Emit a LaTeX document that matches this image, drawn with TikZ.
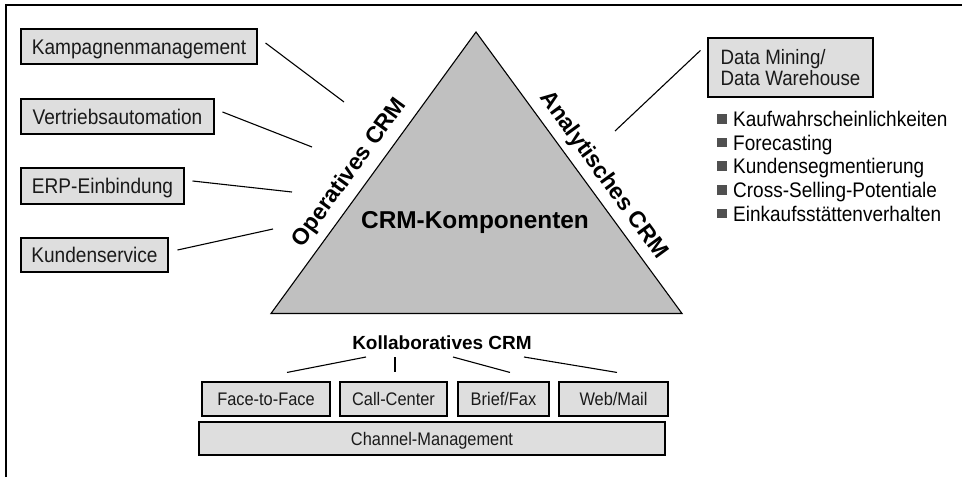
\documentclass[tikz,border=0pt]{standalone}
\usepackage{fontspec}
\setmainfont{Liberation Sans}
\newfontfamily\narrowfont[FakeStretch=0.9]{Liberation Sans}
\definecolor{boxgray}{HTML}{DEDEDE}
\definecolor{trigray}{HTML}{C0C0C0}
\definecolor{bulletgray}{HTML}{505050}
\definecolor{inkgray}{HTML}{1A1A1A}
\begin{document}
\begin{tikzpicture}[x=1pt,y=-1pt,
  box/.style={draw=black, line width=1.1pt, fill=boxgray, inner sep=0pt,
    text=inkgray, font=\narrowfont\fontsize{21.2}{24}\selectfont, text height=15.2pt, text depth=0pt},
  smallbox/.style={box, font=\narrowfont\fontsize{18.2}{22}\selectfont, text height=13pt},
  link/.style={draw=black, line width=1.1pt},
  sidelabel/.style={inner sep=0pt, font=\fontsize{23}{26}\bfseries\selectfont,
    text height=16.5pt, text depth=0pt},
  item/.style={anchor=west, inner sep=0pt, font=\narrowfont\fontsize{21.1}{24}\selectfont,
    text height=15.1pt, text depth=0pt},
  sq/.style={fill=bulletgray, minimum size=9.5pt, inner sep=0pt}
]
\useasboundingbox (0,0) rectangle (962,477);

% frame: only the top and left edges
\draw[line width=2pt] (5.5,477) -- (5.5,5) -- (962,5);

% the CRM triangle
\coordinate (apex) at (476,32);
\coordinate (bl) at (271,313.5);
\coordinate (br) at (682,313.5);
\draw[fill=trigray, line width=1.1pt, line join=miter] (apex) -- (bl) -- (br) -- cycle;

\node[sidelabel, rotate=53.9] (oper) at (348,171.5) {Operatives CRM};
\node[sidelabel, rotate=-53.9] (anal) at (605,174) {Analytisches CRM};
\node[inner sep=0pt, font=\fontsize{24.4}{28}\bfseries\selectfont,
  text height=17.5pt, text depth=0pt] (komp) at (475,220) {CRM-Komponenten};

% operative CRM components
\node[box, minimum width=236pt, minimum height=35pt] (kamp) at (139,46.5) {Kampagnenmanagement};
\node[box, minimum width=193pt, minimum height=35pt] (vert) at (117.5,116.5) {Vertriebsautomation};
\node[box, minimum width=163pt, minimum height=36pt] (erp)  at (102.5,186) {ERP-Einbindung};
\node[box, minimum width=147pt, minimum height=34pt] (kund) at (94.5,255) {Kundenservice};

\coordinate (o1) at (344,102);
\coordinate (o2) at (312,147);
\coordinate (o3) at (292,192);
\coordinate (o4) at (273,229);
\draw[link] ([shift={(8,-3.5)}]kamp.east) -- (o1);
\draw[link] ([shift={(8,-4.5)}]vert.east) -- (o2);
\draw[link] ([shift={(8,-5)}]erp.east) -- (o3);
\draw[link] ([shift={(9,-5)}]kund.east) -- (o4);

% analytical CRM
\node[draw=black, line width=1.1pt, fill=boxgray, text=inkgray, align=left,
  inner sep=0pt, minimum width=165pt, minimum height=59pt,
  font=\narrowfont\fontsize{20.8}{21.5}\selectfont] (dw) at (790.5,67.5) {Data Mining/\\Data Warehouse};
\coordinate (a1) at (615,131);
\draw[link] ([shift={(-7,13)}]dw.north west) -- (a1);

\node[item] (b1) at (733,118.8) {Kaufwahrscheinlichkeiten};
\node[item] (b2) at (733,142.5) {Forecasting};
\node[item] (b3) at (733,166.2) {Kundensegmentierung};
\node[item] (b4) at (733,189.9) {Cross-Selling-Potentiale};
\node[item] (b5) at (733,213.6) {Einkaufsstättenverhalten};
\foreach \b in {b1,b2,b3,b4,b5}
  \node[sq] (sq-\b) at ([xshift=-11pt]\b.west) {};

% collaborative CRM
\node[inner sep=0pt, font=\fontsize{19}{22}\bfseries\selectfont,
  text height=13.6pt, text depth=0pt] (koll) at (442,342.5) {Kollaboratives CRM};

\node[smallbox, minimum width=128pt, minimum height=34pt] (face)  at (266,399) {Face-to-Face};
\node[smallbox, minimum width=107pt, minimum height=34pt] (call)  at (393.5,399) {Call-Center};
\node[smallbox, minimum width=91pt,  minimum height=34pt] (brief) at (503.5,399) {Brief/Fax};
\node[smallbox, minimum width=109pt, minimum height=34pt] (web)   at (613.5,399) {Web/Mail};
\node[smallbox, minimum width=466pt, minimum height=33pt] (chan)  at (432,438.5) {Channel-Management};

\draw[link] ([shift={(-76,14.5)}]koll.center) -- ([shift={(21,-9)}]face.north);
\draw[link] ([shift={(-47,14.5)}]koll.center) -- ([shift={(1.5,-9)}]call.north);
\draw[link] ([shift={(11,14.5)}]koll.center)  -- ([shift={(6.5,-9)}]brief.north);
\draw[link] ([shift={(82,14.5)}]koll.center)  -- ([shift={(3.5,-9)}]web.north);
\end{tikzpicture}
\end{document}
